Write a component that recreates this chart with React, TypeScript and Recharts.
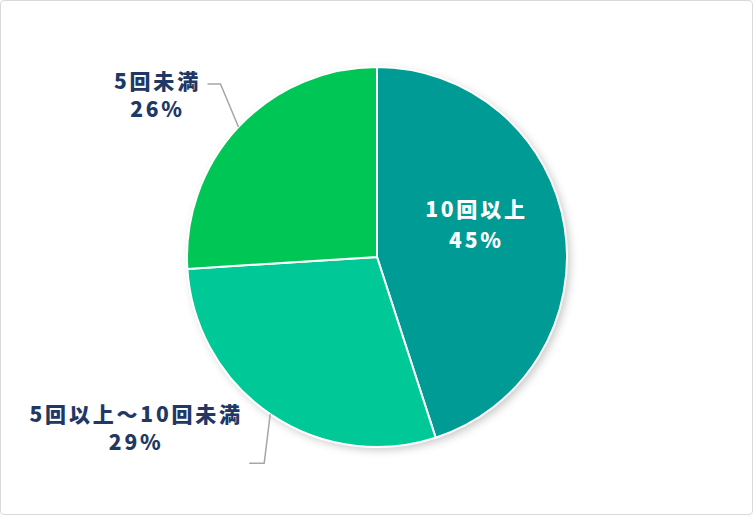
import { PieChart, Pie, Cell } from "recharts";

const categories = ["10回以上", "5回以上～10回未満", "5回未満"];
const shares = [45, 29, 26];
const colors = ["#009B95", "#00C896", "#00C656"];

const data = categories.map((name, i) => ({ name, value: shares[i] }));
const shadowData = [{ name: "shadow", value: 1 }];

const RADIAN = Math.PI / 180;
const navy = "#1F3864";
const font = "'Noto Sans CJK JP', 'Noto Sans', sans-serif";

const renderLabel = (props: any) => {
  const { cx, cy, midAngle, outerRadius, index, name, value } = props;
  const pt = (r: number) => ({
    x: cx + r * Math.cos(-midAngle * RADIAN),
    y: cy + r * Math.sin(-midAngle * RADIAN),
  });
  const textProps = {
    fontFamily: font,
    fontWeight: 900,
    fontSize: 21,
    letterSpacing: 2.8,
    textAnchor: "middle" as const,
    dominantBaseline: "central" as const,
  };

  if (index === 0) {
    const c = pt(outerRadius * 0.53);
    return (
      <g>
        <text x={c.x} y={c.y - 33} fill="#fff" {...textProps}>
          {name}
        </text>
        <text x={c.x} y={c.y - 2} fill="#fff" {...textProps}>
          {value}%
        </text>
      </g>
    );
  }

  const p0 = pt(outerRadius);
  let bend, end, tx, ty1, ty2;
  if (index === 2) {
    bend = { x: p0.x - 18, y: p0.y - 43 };
    end = { x: bend.x - 13, y: bend.y };
    tx = end.x - 50;
    ty1 = end.y - 4;
    ty2 = end.y + 24;
  } else {
    bend = { x: p0.x - 6, y: p0.y + 49 };
    end = { x: bend.x - 15, y: bend.y };
    tx = end.x - 113;
    ty1 = end.y - 50;
    ty2 = end.y - 22;
  }
  return (
    <g>
      <polyline
        points={`${p0.x},${p0.y} ${bend.x},${bend.y} ${end.x},${end.y}`}
        fill="none"
        stroke="#A6A6A6"
        strokeWidth={1.5}
      />
      <text x={tx} y={ty1} fill={navy} {...textProps}>
        {name}
      </text>
      <text x={tx} y={ty2} fill={navy} {...textProps}>
        {value}%
      </text>
    </g>
  );
};

export default function App() {
  return (
    <div
      style={{
        position: "absolute",
        left: 0,
        top: 0,
        width: 753,
        height: 515,
        boxSizing: "border-box",
        border: "1.5px solid #D9D9D9",
        borderRadius: 4,
        background: "#fff",
      }}
    >
      <div style={{ position: "absolute", left: -1.5, top: -1.5 }}>
        <PieChart
          width={753}
          height={515}
          margin={{ top: 0, right: 0, bottom: 0, left: 0 }}
        >
          <defs>
            <filter id="pieShadow" x="-20%" y="-20%" width="140%" height="140%">
              <feGaussianBlur stdDeviation="4" />
            </filter>
          </defs>
          <Pie
            data={shadowData}
            dataKey="value"
            cx={380}
            cy={260}
            outerRadius={190}
            startAngle={90}
            endAngle={-270}
            stroke="none"
            isAnimationActive={false}
            label={false}
            labelLine={false}
          >
            <Cell fill="#000" fillOpacity={0.22} filter="url(#pieShadow)" />
          </Pie>
          <Pie
            data={data}
            dataKey="value"
            nameKey="name"
            cx={377}
            cy={257}
            outerRadius={190}
            startAngle={90}
            endAngle={-270}
            stroke="#fff"
            strokeWidth={2}
            isAnimationActive={false}
            label={renderLabel}
            labelLine={false}
          >
            {data.map((d, i) => (
              <Cell key={d.name} fill={colors[i]} />
            ))}
          </Pie>
        </PieChart>
      </div>
    </div>
  );
}
